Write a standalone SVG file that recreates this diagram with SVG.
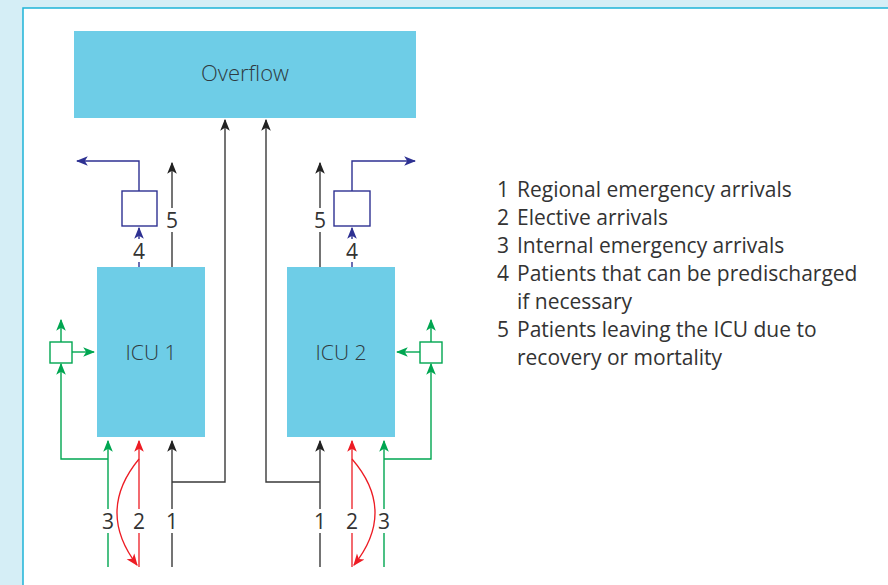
<svg xmlns="http://www.w3.org/2000/svg" width="888" height="585" viewBox="0 0 888 585">
<style>
.t{font-family:"Open Sans","Noto Sans","Liberation Sans",sans-serif;fill:#333;}
.lt{font-weight:300;fill:#2f3a40;}
.box{fill:#6ecde7;}
.k{stroke:#3a3a3a;stroke-width:1.4;fill:none;}
.b{stroke:#2e3192;stroke-width:1.4;fill:none;}
.g{stroke:#00a651;stroke-width:1.4;fill:none;}
.r{stroke:#ed1c24;stroke-width:1.3;fill:none;}
.num{font-size:21px;text-anchor:middle;}
.leg{font-size:21px;}
</style>
<defs>
<marker id="ak" markerUnits="userSpaceOnUse" markerWidth="12" markerHeight="12" viewBox="0 0 10 10" refX="9" refY="5" orient="auto"><path d="M0,1 L10,5 L0,9 L2.5,5 Z" fill="#222"/></marker>
<marker id="ab" markerUnits="userSpaceOnUse" markerWidth="12" markerHeight="12" viewBox="0 0 10 10" refX="9" refY="5" orient="auto"><path d="M0,1 L10,5 L0,9 L2.5,5 Z" fill="#2e3192"/></marker>
<marker id="ag" markerUnits="userSpaceOnUse" markerWidth="12" markerHeight="12" viewBox="0 0 10 10" refX="9" refY="5" orient="auto"><path d="M0,1 L10,5 L0,9 L2.5,5 Z" fill="#00a651"/></marker>
<marker id="ar" markerUnits="userSpaceOnUse" markerWidth="12" markerHeight="12" viewBox="0 0 10 10" refX="9" refY="5" orient="auto"><path d="M0,1 L10,5 L0,9 L2.5,5 Z" fill="#ed1c24"/></marker>
</defs>
<rect x="0" y="0" width="888" height="585" fill="#d5eef6"/>
<rect x="23" y="8" width="870" height="590" fill="#fff" stroke="#1eb4d8" stroke-width="1.5"/>

<g id="overflow"><rect class="box" x="74" y="31" width="342" height="87"/><text class="t lt" x="245" y="81" font-size="22" text-anchor="middle">Overflow</text></g>
<g id="icu1"><rect class="box" x="97" y="267" width="108" height="170"/><text class="t lt" x="151" y="360" font-size="21" text-anchor="middle">ICU 1</text></g>
<g id="icu2"><rect class="box" x="287" y="267" width="108" height="170"/><text class="t lt" x="341" y="360" font-size="21" text-anchor="middle">ICU 2</text></g>
<g id="predischarge1"><rect class="b" x="122" y="191" width="35" height="35"/></g>
<g id="predischarge2"><rect class="b" x="334" y="191" width="36" height="35"/></g>
<g id="internal1"><rect class="g" x="50" y="342" width="22" height="21"/></g>
<g id="internal2"><rect class="g" x="420" y="342" width="22" height="21"/></g>

<g id="connectors">
<path class="k" d="M172,267 V232 M172,208 V163" marker-end="url(#ak)"/>
<path class="b" d="M139,267 V262 M139,239 V228" marker-end="url(#ab)"/>
<path class="b" d="M139,191 V161 H77" marker-end="url(#ab)"/>
<path class="k" d="M320,267 V232 M320,208 V163" marker-end="url(#ak)"/>
<path class="b" d="M352,267 V262 M352,239 V228" marker-end="url(#ab)"/>
<path class="b" d="M352,191 V161 H415" marker-end="url(#ab)"/>
<path class="k" d="M172,567 V533 M172,509 V441" marker-end="url(#ak)"/>
<path class="k" d="M172,482 H225 V120" marker-end="url(#ak)"/>
<path class="r" d="M139,567 V533 M139,509 V441" marker-end="url(#ar)"/>
<path class="r" d="M139,459 Q96,511 137,565" marker-end="url(#ar)"/>
<path class="g" d="M108,567 V533 M108,509 V441" marker-end="url(#ag)"/>
<path class="g" d="M108,459 H61 V364" marker-end="url(#ag)"/>
<path class="g" d="M61,342 V320" marker-end="url(#ag)"/>
<path class="g" d="M72,352 H94" marker-end="url(#ag)"/>
<path class="k" d="M320,567 V533 M320,509 V441" marker-end="url(#ak)"/>
<path class="k" d="M320,482 H266 V120" marker-end="url(#ak)"/>
<path class="r" d="M352,567 V533 M352,509 V441" marker-end="url(#ar)"/>
<path class="r" d="M352,459 Q397,511 354,565" marker-end="url(#ar)"/>
<path class="g" d="M384,567 V533 M384,509 V441" marker-end="url(#ag)"/>
<path class="g" d="M384,459 H431 V364" marker-end="url(#ag)"/>
<path class="g" d="M431,342 V320" marker-end="url(#ag)"/>
<path class="g" d="M420,352 H397" marker-end="url(#ag)"/>
</g>

<g id="labels">
<text class="t num" x="172" y="228">5</text>
<text class="t num" x="139" y="259">4</text>
<text class="t num" x="320" y="228">5</text>
<text class="t num" x="352" y="259">4</text>
<text class="t num" x="108" y="529">3</text>
<text class="t num" x="139" y="529">2</text>
<text class="t num" x="172" y="529">1</text>
<text class="t num" x="320" y="529">1</text>
<text class="t num" x="352" y="529">2</text>
<text class="t num" x="384" y="529">3</text>
</g>

<g id="legend" class="t leg">
<text x="509" y="197" text-anchor="end">1</text><text x="517" y="197">Regional emergency arrivals</text>
<text x="509" y="225" text-anchor="end">2</text><text x="517" y="225">Elective arrivals</text>
<text x="509" y="253" text-anchor="end">3</text><text x="517" y="253">Internal emergency arrivals</text>
<text x="509" y="281" text-anchor="end">4</text><text x="517" y="281">Patients that can be predischarged</text>
<text x="517" y="309">if necessary</text>
<text x="509" y="337" text-anchor="end">5</text><text x="517" y="337">Patients leaving the ICU due to</text>
<text x="517" y="365">recovery or mortality</text>
</g>
</svg>
